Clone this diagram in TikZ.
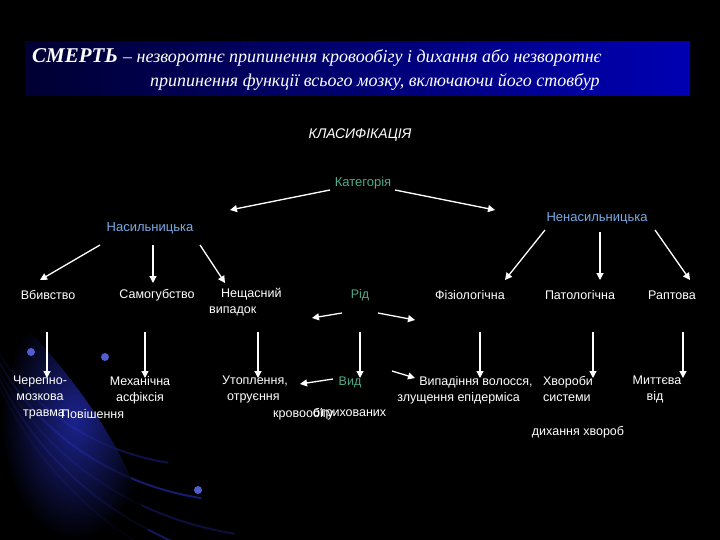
\documentclass[tikz,border=0pt]{standalone}
\usepackage{fontspec}
\setmainfont{Liberation Sans}
\newfontfamily\serifit{Liberation Serif}
\usetikzlibrary{arrows.meta}
\definecolor{catc}{RGB}{80,170,140}
\definecolor{nasc}{RGB}{120,170,230}
\definecolor{streak}{RGB}{40,50,200}
\tikzset{
  lbl/.style={text=white,font=\fontsize{12.5}{16}\selectfont,inner sep=1pt,align=left},
  lblc/.style={lbl,align=center},
  arr/.style={white,line width=1.3pt,-{Triangle[width=7pt,length=7pt]}},
}
\begin{document}
\begin{tikzpicture}[x=1pt,y=-1pt]
\useasboundingbox (0,0) rectangle (720,540);
\fill[black] (0,0) rectangle (720,540);
% background streaks
\foreach \r/\o in {240/0.35,280/0.55,320/0.3,360/0.45,400/0.25}{
  \draw[streak,opacity=\o,line width=2pt] (-30,250) arc[start angle=180,end angle=100,x radius=\r,y radius=\r*0.9];}
\shade[inner color=streak,outer color=black,opacity=0.7] (0,300) .. controls (100,400) and (140,480) .. (150,540) -- (0,540) -- cycle;
\foreach \p in {(31,352),(105,357),(198,490)}{\fill[streak!80!white] \p circle (4);}
% title
\shade[left color=black!80!blue,right color=blue!70!black] (25,42) rectangle (690,96);
\node[anchor=west,text=white,inner sep=0] (t1) at (32,57) {\serifit\itshape\fontsize{21}{23}\selectfont\textbf{СМЕРТЬ} \fontsize{18}{20}\selectfont– незворотнє припинення кровообігу і дихання або незворотнє};
\node[anchor=west,text=white,inner sep=0] (t2) at (150,82) {\serifit\itshape\fontsize{18}{20}\selectfont припинення функції всього мозку, включаючи його стовбур};
\node[text=white,font=\itshape\fontsize{14}{16}\selectfont] (kl) at (360,135) {КЛАСИФІКАЦІЯ};
\node[text=catc,font=\fontsize{13}{15}\selectfont] (kat) at (363,183) {Категорія};
\node[text=nasc,font=\fontsize{13}{15}\selectfont] (nas) at (150,228) {Насильницька};
\node[text=nasc,font=\fontsize{13}{15}\selectfont] (nen) at (597,218) {Ненасильницька};
\draw[arr] (330,190) -- (230,210);
\draw[arr] (395,190) -- (495,210);
% row 2
\node[lbl] (v1) at (48,295) {Вбивство};
\node[lbl] (v2) at (157,295) {Самогубство};
\node[lbl,anchor=north west] (v3) at (208,287) {\hspace*{12pt}Нещасний\\випадок};
\node[lbl,text=catc] (rid) at (360,295) {Рід};
\node[lbl] (v5) at (470,295) {Фізіологічна};
\node[lbl] (v6) at (580,295) {Патологічна};
\node[lbl] (v7) at (672,295) {Раптова};
\coordinate (n1) at (100,245); \coordinate (n2) at (153,245); \coordinate (n3) at (200,245);
\coordinate (m1) at (545,230); \coordinate (m2) at (600,232); \coordinate (m3) at (655,230);
\draw[arr] (n1) -- (40,280); \draw[arr] (n2) -- (153,283); \draw[arr] (n3) -- (225,283);
\draw[arr] (m1) -- (505,280); \draw[arr] (m2) -- (600,280); \draw[arr] (m3) -- (690,280);
\coordinate (rl) at (312,318); \coordinate (rr) at (415,320);
\draw[arr] (342,313) -- (rl); \draw[arr] (378,313) -- (rr);
% vertical arrows
\foreach \x in {47,145,258,360,480,593,683}{\draw[arr] (\x,332) -- (\x,378);}
% row 3
\node[lblc,anchor=north] (w1) at (40,375) {Черепно-\\мозкова};
\node[lbl,anchor=west] at (22,414) {травма};
\node[lblc,anchor=north] (w2) at (140,375) {Механічна\\асфіксія};
\node[lbl,anchor=west] at (60,414) {Повішення};
\node[lbl,anchor=north] (w3) at (255,375) {Утоплення,\\\hspace*{5pt}отруєння};
\node[lbl,text=catc] (vid) at (350,382) {Вид};
\coordinate (vl) at (300,384); \coordinate (vr) at (415,378);
\draw[arr] (333,379) -- (vl); \draw[arr] (392,371) -- (vr);
\node[lbl,anchor=north] (w5) at (465,375) {\hspace*{22pt}Випадіння волосся,\\злущення епідерміса};
\node[lbl,anchor=north] (w6) at (568,375) {Хвороби\\системи};
\node[lbl,anchor=north] (w7) at (657,375) {Миттєва\\\hspace*{14pt}від};
\node[lbl,anchor=west] at (272,414) {кровообігу};
\node[lbl,anchor=west] at (312,414) {отрихованих};
\node[lbl] at (578,432) {дихання хвороб};
\end{tikzpicture}
\end{document}
